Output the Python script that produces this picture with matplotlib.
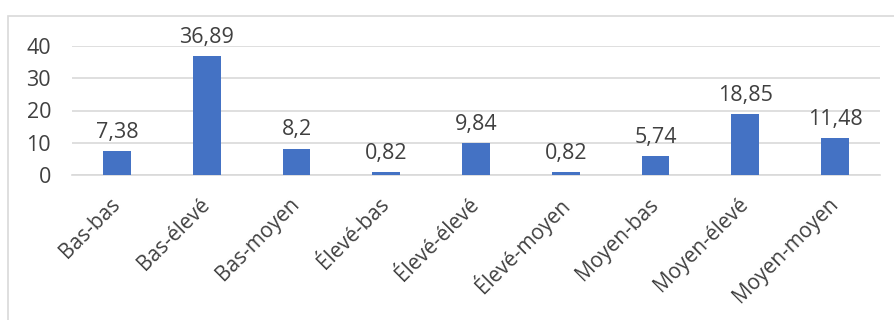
import matplotlib
matplotlib.use("Agg")
import matplotlib.pyplot as plt
from matplotlib.patches import Rectangle

categories = ["Bas-bas", "Bas-élevé", "Bas-moyen", "Élevé-bas", "Élevé-élevé",
              "Élevé-moyen", "Moyen-bas", "Moyen-élevé", "Moyen-moyen"]
values = [7.38, 36.89, 8.2, 0.82, 9.84, 0.82, 5.74, 18.85, 11.48]
labels = ["7,38", "36,89", "8,2", "0,82", "9,84", "0,82", "5,74", "18,85", "11,48"]
yticks = [0, 10, 20, 30, 40]

plt.rcParams['font.family'] = ['Open Sans', 'DejaVu Sans']
text_color = '#404040'
fs = 15.5

fig = plt.figure(figsize=(8.94, 3.2), dpi=100)
ax = fig.add_axes([72/894, 1 - 175/320, 808/894, 129/320])

# chart frame
fig.patches.append(Rectangle((8/894, -0.1), 1.0, 1 - 16/320 + 0.1,
                             transform=fig.transFigure, fill=False,
                             edgecolor='#d9d9d9', linewidth=1.2))

x = range(len(categories))
bars = ax.bar(x, values, width=0.31, color='#4472C4', zorder=3)

for xi, v, lab in zip(x, values, labels):
    ax.annotate(lab, (xi, v), xytext=(0, 6), textcoords='offset points',
                ha='center', va='bottom', fontsize=fs, color=text_color)

ax.set_xlim(-0.5, len(categories) - 0.5)
ax.set_ylim(0, 40)
ax.set_yticks(yticks)
ax.set_yticklabels([str(t) for t in yticks], fontsize=fs, color=text_color)
ax.yaxis.grid(True, color='#d9d9d9', linewidth=1.2, zorder=0)
ax.set_axisbelow(True)

ax.set_xticks(list(x))
ax.set_xticklabels(categories, rotation=45, ha='right', va='center',
                   rotation_mode='anchor', fontsize=15, color=text_color)
ax.tick_params(axis='both', length=0)
ax.tick_params(axis='x', pad=19)
ax.tick_params(axis='y', pad=15)

for s in ['top', 'right', 'left']:
    ax.spines[s].set_visible(False)
ax.spines['bottom'].set_color('#d9d9d9')
ax.spines['bottom'].set_linewidth(1.2)

fig.savefig("out.png", dpi=100)
